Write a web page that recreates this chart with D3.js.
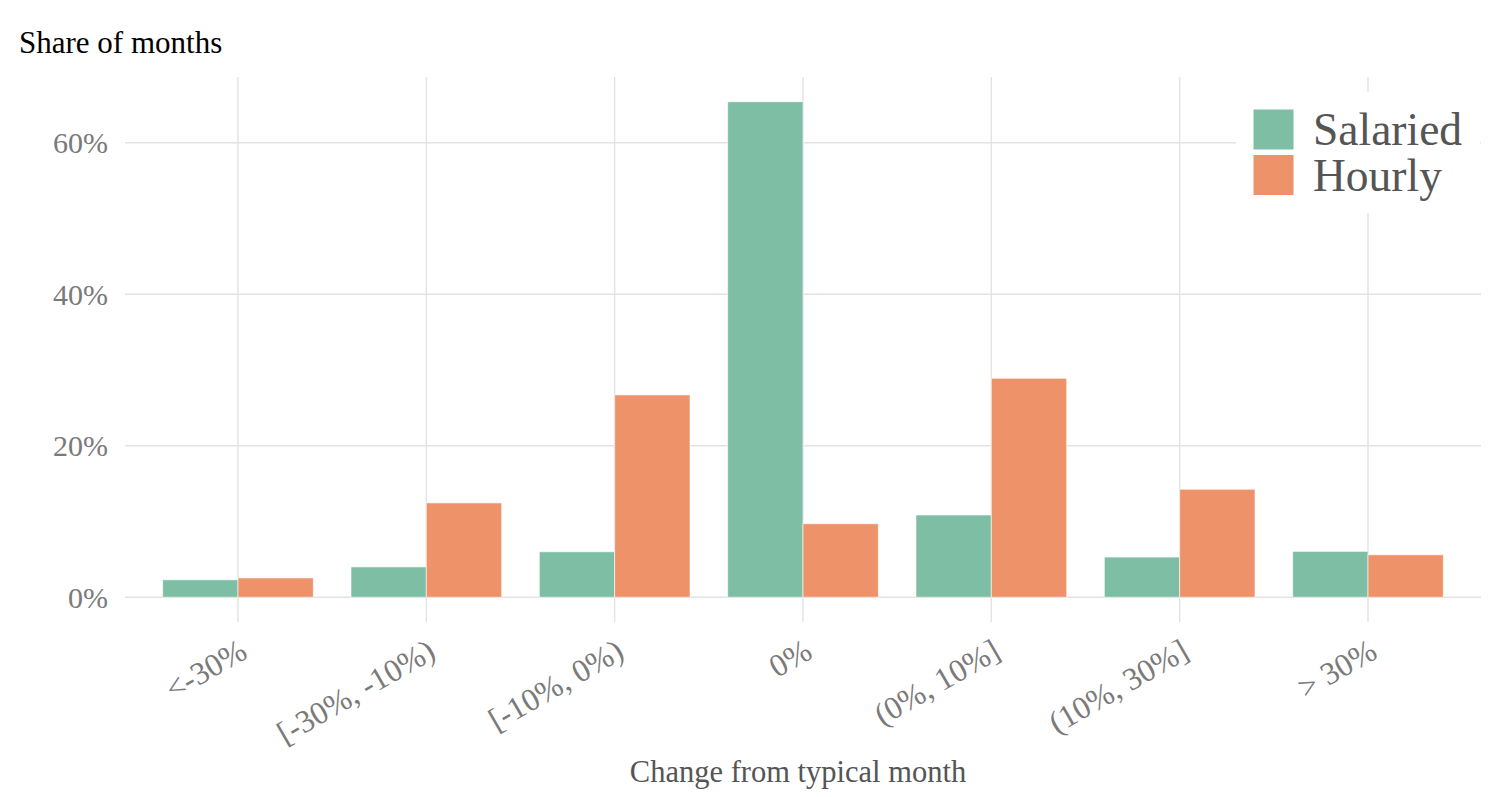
<!DOCTYPE html>
<html>
<head>
<meta charset="utf-8">
<script src="https://cdn.jsdelivr.net/npm/d3@7"></script>
<style>
  html, body { margin: 0; padding: 0; background: #ffffff; }
  svg { display: block; }
  text { font-family: "Liberation Serif", "Times New Roman", serif; }
</style>
</head>
<body>
<svg id="chart" width="1492" height="797"></svg>
<script>
const categories = ["<-30%", "[-30%, -10%)", "[-10%, 0%)", "0%", "(0%, 10%]", "(10%, 30%]", "> 30%"];
const seriesNames = ["Salaried", "Hourly"];
const salaried = [2.3, 4.0, 6.0, 65.4, 10.85, 5.3, 6.05];
const hourly = [2.55, 12.45, 26.7, 9.7, 28.9, 14.25, 5.6];
const yTicks = [0, 20, 40, 60];
const colors = ["#7DBEA5", "#EE926A"];

const svg = d3.select("#chart");
const panel = { left: 125, right: 1481, top: 77, bottom: 622 };

const seriesValues = [salaried, hourly];
const maxV = d3.max(seriesValues.flat());

const x = d3.scalePoint().domain(categories).range([panel.left, panel.right]).padding(0.6);
const step = x.step();
const xSub = d3.scaleBand().domain(seriesNames).range([-0.4 * step, 0.4 * step]).padding(0);
const y = d3.scaleLinear().domain([-0.05 * maxV, maxV * 1.05]).range([panel.bottom, panel.top]);

// gridlines
const grid = svg.append("g");
grid.selectAll("line.h").data(yTicks).enter().append("line")
  .attr("x1", panel.left).attr("x2", panel.right)
  .attr("y1", d => y(d)).attr("y2", d => y(d))
  .attr("stroke", "#e3e3e3").attr("stroke-width", 1.4);
grid.selectAll("line.v").data(categories).enter().append("line")
  .attr("x1", d => x(d)).attr("x2", d => x(d))
  .attr("y1", panel.top).attr("y2", panel.bottom)
  .attr("stroke", "#e3e3e3").attr("stroke-width", 1.4);

// bars
const rows = categories.map((c, i) => ({ cat: c, vals: seriesNames.map((s, j) => ({ s, j, v: seriesValues[j][i] })) }));
const gBars = svg.append("g");
const groups = gBars.selectAll("g").data(rows).enter().append("g")
  .attr("transform", d => `translate(${x(d.cat)},0)`);
groups.selectAll("rect").data(d => d.vals).enter().append("rect")
  .attr("x", d => xSub(d.s))
  .attr("width", xSub.bandwidth())
  .attr("y", d => y(d.v))
  .attr("height", d => y(0) - y(d.v))
  .attr("fill", d => colors[d.j])
  .attr("stroke", "#ffffff").attr("stroke-opacity", 0.6).attr("stroke-width", 1);

// y axis labels
const yAxis = d3.axisLeft(y).tickValues(yTicks).tickFormat(d => d + "%").tickSize(0).tickPadding(0);
const gy = svg.append("g").attr("transform", `translate(108,0)`).call(yAxis);
gy.select(".domain").remove();
gy.selectAll("text").attr("font-size", 30).attr("fill", "#7a7a7a")
  .attr("font-family", "Liberation Serif, Times New Roman, serif").attr("dy", "0.33em");

// x axis labels
const xAxis = d3.axisBottom(x).tickSize(0).tickPadding(0);
const gx = svg.append("g").call(xAxis);
gx.select(".domain").remove();
gx.selectAll(".tick").attr("transform", d => `translate(${x(d) + 11},657)`);
gx.selectAll("text")
  .attr("y", 0).attr("dy", 0)
  .attr("transform", "rotate(-30)")
  .attr("text-anchor", "end")
  .attr("font-size", 32).attr("fill", "#7a7a7a")
  .attr("font-family", "Liberation Serif, Times New Roman, serif");

// titles
svg.append("text").attr("x", 19).attr("y", 53).attr("font-size", 31).attr("fill", "#000000")
  .text("Share of months");
svg.append("text").attr("x", (panel.left + panel.right) / 2 - 5).attr("y", 782)
  .attr("text-anchor", "middle").attr("font-size", 30.5).attr("fill", "#555555")
  .text("Change from typical month");

// legend
const lg = svg.append("g");
lg.append("rect").attr("x", 1236).attr("y", 92).attr("width", 244).attr("height", 121).attr("fill", "#ffffff");
const items = lg.selectAll("g.item").data(seriesNames).enter().append("g")
  .attr("transform", (d, i) => `translate(1253,${109 + i * 45.5})`);
items.append("rect").attr("width", 41).attr("height", 41)
  .attr("fill", (d, i) => colors[i]).attr("stroke", "#ffffff").attr("stroke-width", 1);
items.append("text").attr("x", 60).attr("y", 36).attr("font-size", 45.5).attr("fill", "#555555")
  .text(d => d);
</script>
</body>
</html>
